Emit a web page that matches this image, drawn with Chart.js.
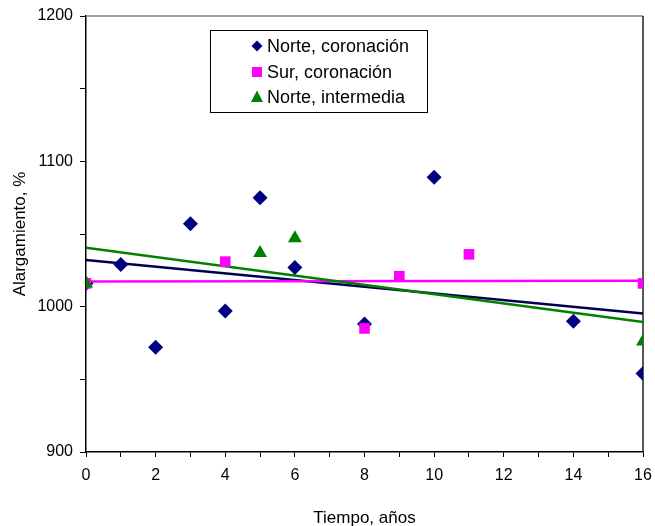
<!DOCTYPE html>
<html>
<head>
<meta charset="utf-8">
<script src="https://cdn.jsdelivr.net/npm/chart.js@4/dist/chart.umd.min.js"></script>
<style>
  body { margin: 0; background: #fff; }
  canvas { display: block; }
</style>
</head>
<body>
<canvas id="alargamientoChart" width="655" height="526"></canvas>
<script>
// years (x) and elongation % (y) per series
const norteCoronacionX = [0, 1, 2, 3, 4, 5, 6, 8, 10, 14, 16];
const norteCoronacionY = [1016, 1029, 972, 1057, 997, 1075, 1027, 988, 1089, 990, 954];

const surCoronacionX = [0, 4, 8, 9, 11, 16];
const surCoronacionY = [1016, 1031, 985, 1021, 1036, 1016];

const norteIntermediaX = [0, 5, 6, 16];
const norteIntermediaY = [1016, 1037, 1047, 976];

const seriesNames = ['Norte, coronación', 'Sur, coronación', 'Norte, intermedia'];
const seriesColors = ['#000080', '#ff00ff', '#008000'];
const trendColors = ['#000050', '#ff00ff', '#008000'];
const seriesShapes = ['rectRot', 'rect', 'triangle'];

const xTicks = [0, 2, 4, 6, 8, 10, 12, 14, 16];
const yTicks = [900, 1000, 1100, 1200];

function toPoints(xs, ys) {
    return xs.map((x, i) => ({ x: x, y: ys[i] }));
}

// least squares line between min and max x
function trendLine(xs, ys) {
    const n = xs.length;
    const mx = xs.reduce((a, b) => a + b, 0) / n;
    const my = ys.reduce((a, b) => a + b, 0) / n;
    let sxy = 0, sxx = 0;
    for (let i = 0; i < n; i++) {
        sxy += (xs[i] - mx) * (ys[i] - my);
        sxx += (xs[i] - mx) * (xs[i] - mx);
    }
    const slope = sxy / sxx;
    const b = my - slope * mx;
    const x0 = Math.min(...xs), x1 = Math.max(...xs);
    return [{ x: x0, y: b + slope * x0 }, { x: x1, y: b + slope * x1 }];
}

const allX = [norteCoronacionX, surCoronacionX, norteIntermediaX];
const allY = [norteCoronacionY, surCoronacionY, norteIntermediaY];

const datasets = [];
const pointRadius = [7.5, 7.5, 8];
for (let i = 0; i < 3; i++) {
    datasets.push({
        label: seriesNames[i],
        data: toPoints(allX[i], allY[i]),
        pointStyle: seriesShapes[i],
        pointRadius: pointRadius[i],
        pointHoverRadius: pointRadius[i],
        backgroundColor: seriesColors[i],
        borderColor: seriesColors[i],
        pointBorderWidth: 0,
        showLine: false,
        order: 2 - i
    });
}
for (let i = 0; i < 3; i++) {
    datasets.push({
        label: 'trend ' + i,
        data: trendLine(allX[i], allY[i]),
        showLine: true,
        pointRadius: 0,
        borderColor: trendColors[i],
        borderWidth: 2.5,
        fill: false,
        order: 5 - i
    });
}

// legend box inside the plot, top-left
const legendBox = {
    id: 'legendBox',
    afterDraw(chart) {
        const ctx = chart.ctx;
        const area = chart.chartArea;
        const bx = area.left + 124, by = area.top + 14, bw = 217, bh = 82;
        ctx.save();
        ctx.fillStyle = '#fff';
        ctx.fillRect(bx, by, bw, bh);
        ctx.strokeStyle = '#000';
        ctx.lineWidth = 1;
        ctx.strokeRect(bx + 0.5, by + 0.5, bw, bh);
        const rows = [16, 42, 67];
        ctx.font = '18px "Liberation Sans", Arial, sans-serif';
        ctx.textBaseline = 'middle';
        for (let i = 0; i < 3; i++) {
            const cx = bx + 47, cy = by + rows[i];
            ctx.fillStyle = seriesColors[i];
            ctx.beginPath();
            if (i === 0) {
                ctx.moveTo(cx, cy - 5.5); ctx.lineTo(cx + 5.5, cy);
                ctx.lineTo(cx, cy + 5.5); ctx.lineTo(cx - 5.5, cy);
            } else if (i === 1) {
                ctx.rect(cx - 5, cy - 5, 10, 10);
            } else {
                ctx.moveTo(cx, cy - 6.5); ctx.lineTo(cx + 6, cy + 5);
                ctx.lineTo(cx - 6, cy + 5);
            }
            ctx.closePath();
            ctx.fill();
            ctx.fillStyle = '#000';
            ctx.fillText(seriesNames[i], bx + 57, cy + 1);
        }
        ctx.restore();
    }
};

// top and right edges of the plot area
const plotFrame = {
    id: 'plotFrame',
    beforeDatasetsDraw(chart) {
        const ctx = chart.ctx;
        const a = chart.chartArea;
        ctx.save();
        ctx.strokeStyle = '#808080';
        ctx.lineWidth = 1.5;
        ctx.beginPath();
        ctx.moveTo(a.left, a.top);
        ctx.lineTo(a.right, a.top);
        ctx.stroke();
        ctx.strokeStyle = '#202020';
        ctx.beginPath();
        ctx.moveTo(a.right, a.top);
        ctx.lineTo(a.right, a.bottom);
        ctx.stroke();
        ctx.restore();
    }
};

const fontFamily = '"Liberation Sans", Arial, sans-serif';

const ctx = document.getElementById('alargamientoChart').getContext('2d');
new Chart(ctx, {
    type: 'scatter',
    data: { datasets: datasets },
    plugins: [plotFrame, legendBox],
    options: {
        responsive: false,
        animation: false,
        layout: {
            padding: { left: 0, right: 12, top: 16, bottom: 0 }
        },
        plugins: {
            legend: { display: false },
            tooltip: { enabled: false }
        },
        scales: {
            x: {
                type: 'linear',
                min: 0,
                max: 16,
                afterFit: (s) => {
                    s.height = 74;
                    s.paddingLeft = 0;
                    s.paddingRight = 0;
                },
                border: { color: '#000', width: 1.5 },
                grid: {
                    drawOnChartArea: false,
                    tickLength: 5,
                    color: '#000',
                    tickWidth: 1
                },
                ticks: {
                    stepSize: 1,
                    padding: 9,
                    color: '#000',
                    font: { family: fontFamily, size: 16 },
                    callback: (v) => xTicks.includes(v) ? String(v) : ''
                },
                title: {
                    display: true,
                    text: 'Tiempo, años',
                    color: '#000',
                    font: { family: fontFamily, size: 17 },
                    padding: { top: 4, bottom: -3 }
                }
            },
            y: {
                type: 'linear',
                min: 900,
                max: 1200,
                afterFit: (s) => {
                    s.width = 86;
                    s.paddingTop = 0;
                    s.paddingBottom = 0;
                },
                border: { color: '#000', width: 1.5 },
                grid: {
                    drawOnChartArea: false,
                    tickLength: 6,
                    color: '#000',
                    tickWidth: 1
                },
                ticks: {
                    stepSize: 50,
                    padding: 7,
                    color: '#000',
                    font: { family: fontFamily, size: 16 },
                    callback: (v) => yTicks.includes(v) ? String(v) : ''
                },
                title: {
                    display: true,
                    text: 'Alargamiento, %',
                    color: '#000',
                    font: { family: fontFamily, size: 17 },
                    padding: { top: 10, bottom: 0 }
                }
            }
        }
    }
});
</script>
</body>
</html>
